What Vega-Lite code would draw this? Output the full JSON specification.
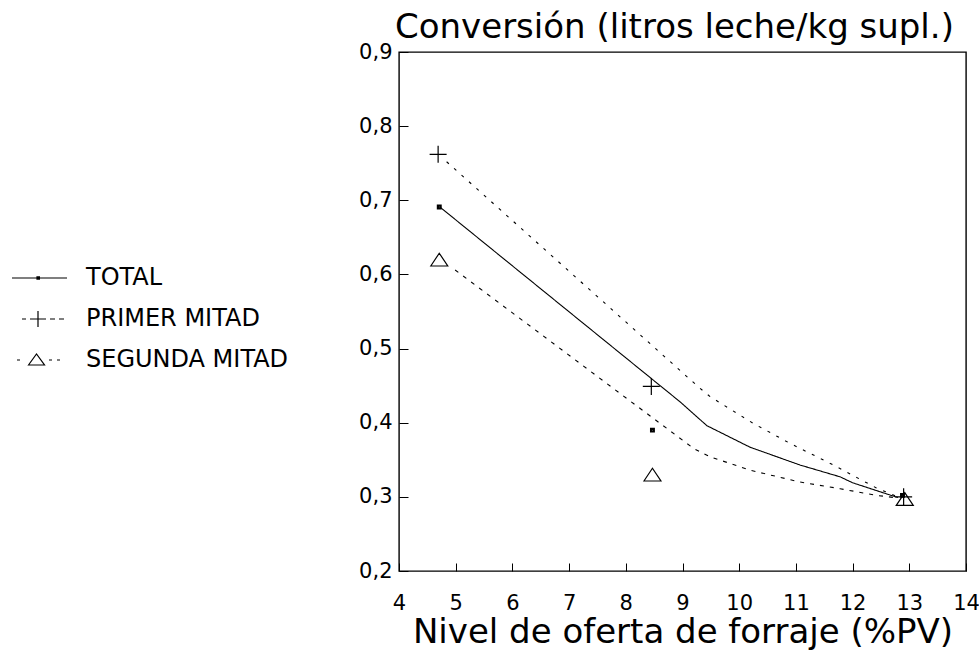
{
  "$schema": "https://vega.github.io/schema/vega-lite/v6.json",
  "width": 567,
  "height": 519,
  "autosize": "none",
  "padding": {"left": 399, "top": 52, "right": 13, "bottom": 82},
  "background": "white",
  "config": {
    "view": {"stroke": "black", "strokeWidth": 1.4},
    "font": "DejaVu Sans",
    "axis": {"labelColor": "black", "titleColor": "black", "tickColor": "black", "grid": false, "domain": false, "labelFont": "DejaVu Sans", "titleFont": "DejaVu Sans", "titleFontWeight": "normal"}
  },
  "title": {"text": "Conversión (litros leche/kg supl.)", "anchor": "start", "frame": "group", "font": "DejaVu Sans", "fontSize": 34, "fontWeight": "normal", "color": "black", "offset": -4, "dx": -4},
  "datasets": {
    "fit": [
      {"curve": "TOTAL", "x": 4.72, "y": 0.691},
      {"curve": "TOTAL", "x": 8.96, "y": 0.428},
      {"curve": "TOTAL", "x": 9.43, "y": 0.396},
      {"curve": "TOTAL", "x": 10.19, "y": 0.367},
      {"curve": "TOTAL", "x": 11.07, "y": 0.343},
      {"curve": "TOTAL", "x": 11.78, "y": 0.327},
      {"curve": "TOTAL", "x": 12.0, "y": 0.319},
      {"curve": "TOTAL", "x": 12.8, "y": 0.299},
      {"curve": "PRIMER MITAD", "x": 4.84, "y": 0.752},
      {"curve": "PRIMER MITAD", "x": 9.3, "y": 0.447},
      {"curve": "PRIMER MITAD", "x": 9.49, "y": 0.435},
      {"curve": "PRIMER MITAD", "x": 10.25, "y": 0.399},
      {"curve": "PRIMER MITAD", "x": 10.9, "y": 0.372},
      {"curve": "PRIMER MITAD", "x": 11.66, "y": 0.343},
      {"curve": "PRIMER MITAD", "x": 12.42, "y": 0.312},
      {"curve": "PRIMER MITAD", "x": 12.8, "y": 0.3},
      {"curve": "SEGUNDA MITAD", "x": 4.99, "y": 0.606},
      {"curve": "SEGUNDA MITAD", "x": 9.2, "y": 0.365},
      {"curve": "SEGUNDA MITAD", "x": 9.49, "y": 0.354},
      {"curve": "SEGUNDA MITAD", "x": 10.19, "y": 0.336},
      {"curve": "SEGUNDA MITAD", "x": 11.07, "y": 0.32},
      {"curve": "SEGUNDA MITAD", "x": 11.78, "y": 0.311},
      {"curve": "SEGUNDA MITAD", "x": 12.42, "y": 0.302},
      {"curve": "SEGUNDA MITAD", "x": 12.75, "y": 0.299}
    ],
    "obs": [
      {"series": "TOTAL", "x": 4.71, "y": 0.691},
      {"series": "TOTAL", "x": 8.47, "y": 0.39},
      {"series": "TOTAL", "x": 12.88, "y": 0.302},
      {"series": "PRIMER MITAD", "x": 4.69, "y": 0.762},
      {"series": "PRIMER MITAD", "x": 8.45, "y": 0.449},
      {"series": "PRIMER MITAD", "x": 12.9, "y": 0.3},
      {"series": "SEGUNDA MITAD", "x": 4.71, "y": 0.62},
      {"series": "SEGUNDA MITAD", "x": 8.47, "y": 0.33},
      {"series": "SEGUNDA MITAD", "x": 12.92, "y": 0.297}
    ]
  },
  "layer": [
    {
      "data": {"name": "fit"},
      "mark": {"type": "line", "color": "black", "interpolate": "linear"},
      "encoding": {
        "x": {"field": "x", "type": "quantitative", "scale": {"domain": [4, 14], "nice": false},
          "axis": {"values": [4, 5, 6, 7, 8, 9, 10, 11, 12, 13, 14], "format": "d", "labelOverlap": false, "labelFlush": false, "tickSize": -8, "labelPadding": 29, "labelFontSize": 21, "title": "Nivel de oferta de forraje (%PV)", "titleFontSize": 34, "titlePadding": 2}},
        "y": {"field": "y", "type": "quantitative", "scale": {"domain": [0.2, 0.9], "nice": false, "zero": false},
          "axis": {"values": [0.2, 0.3, 0.4, 0.5, 0.6, 0.7, 0.8, 0.9], "labelOverlap": false, "labelFlush": false, "tickSize": -9, "labelPadding": 16, "labelFontSize": 21, "labelExpr": "replace(format(datum.value, '.1f'), '.', ',')", "title": null}},
        "detail": {"field": "curve"},
        "strokeDash": {"field": "curve", "type": "nominal", "scale": {"range": [[3, 7], [4, 6], [1, 0]]}, "legend": null},
        "strokeWidth": {"field": "curve", "type": "nominal", "scale": {"range": [1.1, 1.1, 1.7]}, "legend": null}
      }
    },
    {
      "data": {"name": "obs"},
      "transform": [{"filter": "datum.series === 'TOTAL'"}],
      "mark": {"type": "point", "filled": false, "color": "black", "strokeWidth": 1.2, "size": 289, "opacity": 1, "shape": "M-0.22,-0.22H0.22V0.22H-0.22ZM-0.1,-0.1H0.1V0.1H-0.1Z"},
      "encoding": {"x": {"field": "x", "type": "quantitative"}, "y": {"field": "y", "type": "quantitative"}}
    },
    {
      "data": {"name": "obs"},
      "transform": [{"filter": "datum.series === 'PRIMER MITAD'"}],
      "mark": {"type": "point", "filled": false, "color": "black", "strokeWidth": 1.2, "size": 289, "opacity": 1, "shape": "M-1,0H1M0,-1V1"},
      "encoding": {"x": {"field": "x", "type": "quantitative"}, "y": {"field": "y", "type": "quantitative"}}
    },
    {
      "data": {"name": "obs"},
      "transform": [{"filter": "datum.series === 'SEGUNDA MITAD'"}],
      "mark": {"type": "point", "filled": false, "color": "black", "strokeWidth": 1.2, "size": 289, "opacity": 1, "shape": "M-1,0.75L0,-0.75L1,0.75Z"},
      "encoding": {"x": {"field": "x", "type": "quantitative"}, "y": {"field": "y", "type": "quantitative"}}
    },
    {
      "data": {"name": "obs"},
      "mark": {"type": "point", "filled": false, "color": "black", "strokeWidth": 1.2, "size": 289, "opacity": 0},
      "encoding": {
        "x": {"field": "x", "type": "quantitative"},
        "y": {"field": "y", "type": "quantitative"},
        "shape": {"field": "series", "type": "nominal",
          "scale": {"domain": ["TOTAL", "PRIMER MITAD", "SEGUNDA MITAD"], "range": [
            "M-2.4,0H3.1M0.1,-0.12H0.34V0.12H0.1ZM0.17,-0.05H0.27V0.05H0.17Z",
            "M-1.4,0H-1.0M-0.6,0H1.0M0.2,-0.8V0.8M1.4,0H1.9M2.3,0H2.8",
            "M-1.9,0H-1.6M-0.75,0.5L0.05,-0.6L0.85,0.5ZM1.3,0H1.6M2.1,0H2.4"
          ]},
          "legend": {
            "title": null,
            "orient": "none",
            "legendX": -375,
            "legendY": 214,
            "symbolSize": 400,
            "symbolStrokeWidth": 1.2,
            "symbolStrokeColor": "black",
            "symbolFillColor": "transparent",
            "symbolOpacity": 1,
            "labelFont": "DejaVu Sans",
            "labelFontSize": 24,
            "labelColor": "black",
            "labelOffset": 38,
            "rowPadding": 17,
            "padding": 0,
            "labelLimit": 400
          }
        }
      }
    }
  ]
}
